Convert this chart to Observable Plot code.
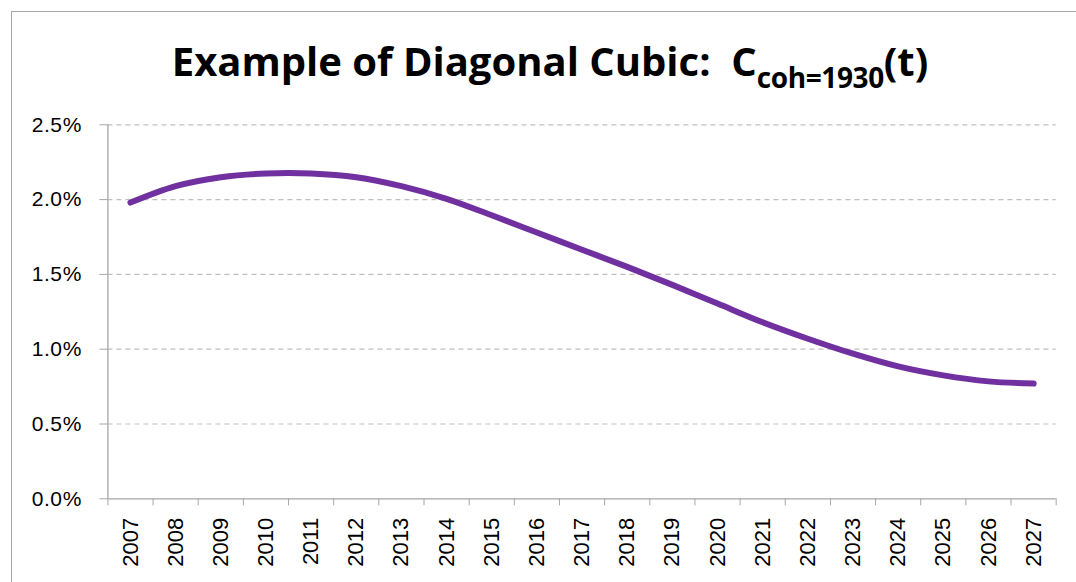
<!DOCTYPE html>
<html>
<head>
<meta charset="utf-8">
<script src="https://cdn.jsdelivr.net/npm/d3@7"></script>
<script src="https://cdn.jsdelivr.net/npm/@observablehq/plot@0.6"></script>
<style>
  html, body { margin: 0; padding: 0; background: #fff; }
  body { width: 1076px; height: 582px; overflow: hidden; position: relative; }
  #frame { position: absolute; left: 11px; top: 11px; width: 1100px; height: 620px; border: 1.5px solid #a6a6a6; box-sizing: border-box; }
  #title { position: absolute; left: 550px; top: 31px; transform: translateX(-50%); white-space: nowrap;
           font-family: "Open Sans", sans-serif; font-weight: 700; font-size: 40px; line-height: 60px; color: #000; letter-spacing: 0px; }
  #title sub { font-size: 28px; vertical-align: baseline; position: relative; top: 12px; letter-spacing: -0.4px; }
  #chart { position: absolute; left: 0; top: 0; }
  #chart svg text { font-family: "Liberation Sans", Arial, sans-serif; }
  #chart svg g[aria-label="y-axis tick label"] text { font-size: 21px !important; letter-spacing: 0.6px; }
  #chart svg g[aria-label="x-axis tick label"] text { font-size: 22px !important; }
</style>
</head>
<body>
<div id="frame"></div>
<div id="chart"></div>
<div id="title">Example of Diagonal Cubic:&nbsp; C<sub>coh=1930</sub>(t)</div>
<script>
const years = [2007, 2008, 2009, 2010, 2011, 2012, 2013, 2014, 2015, 2016, 2017,
               2018, 2019, 2020, 2021, 2022, 2023, 2024, 2025, 2026, 2027];
const rates = [1.98, 2.09, 2.15, 2.175, 2.175, 2.15, 2.09, 2.005, 1.895, 1.78, 1.665,
               1.55, 1.43, 1.305, 1.18, 1.07, 0.97, 0.885, 0.825, 0.785, 0.77];
const yTicks = [0, 0.5, 1.0, 1.5, 2.0, 2.5];

const data = years.map((y, i) => ({year: y, rate: rates[i]}));
const bounds = [years[0] - 0.5, ...years.map(y => y + 0.5)];

const chart = Plot.plot({
  width: 1076,
  height: 582,
  marginLeft: 107.4,
  marginRight: 20.3,
  marginTop: 124.3,
  marginBottom: 83.7,
  style: {fontFamily: "'Liberation Sans', Arial, sans-serif", fontSize: "21px", color: "#000", background: "transparent"},
  x: {type: "linear", domain: [years[0] - 0.5, years[years.length - 1] + 0.5]},
  y: {domain: [0, 2.5]},
  marks: [
    Plot.ruleY(yTicks.filter(d => d > 0), {stroke: "#bfbfbf", strokeWidth: 1.2, strokeDasharray: "5,4"}),
    Plot.ruleX([bounds[0]], {y1: 0, y2: 2.5, stroke: "#a6a6a6", strokeWidth: 1.3}),
    Plot.ruleY([0], {stroke: "#a6a6a6", strokeWidth: 1.3}),
    Plot.axisY(yTicks, {tickSize: 8, tickPadding: 18, stroke: "#a6a6a6", fill: "#000", fontSize: 21,
                        tickFormat: d => d.toFixed(1) + "%", label: null}),
    Plot.axisX(bounds, {tickSize: 7, stroke: "#a6a6a6", tickFormat: () => "", label: null}),
    Plot.axisX(years, {tickSize: 0, tickPadding: 19, tickRotate: -90, fontSize: 22, fill: "#000",
                       tickFormat: d => String(d), label: null}),
    Plot.line(data, {x: "year", y: "rate", stroke: "#7030a0", strokeWidth: 6,
                     strokeLinecap: "round", strokeLinejoin: "round", curve: "catmull-rom"})
  ]
});
document.getElementById("chart").appendChild(chart);
</script>
</body>
</html>
